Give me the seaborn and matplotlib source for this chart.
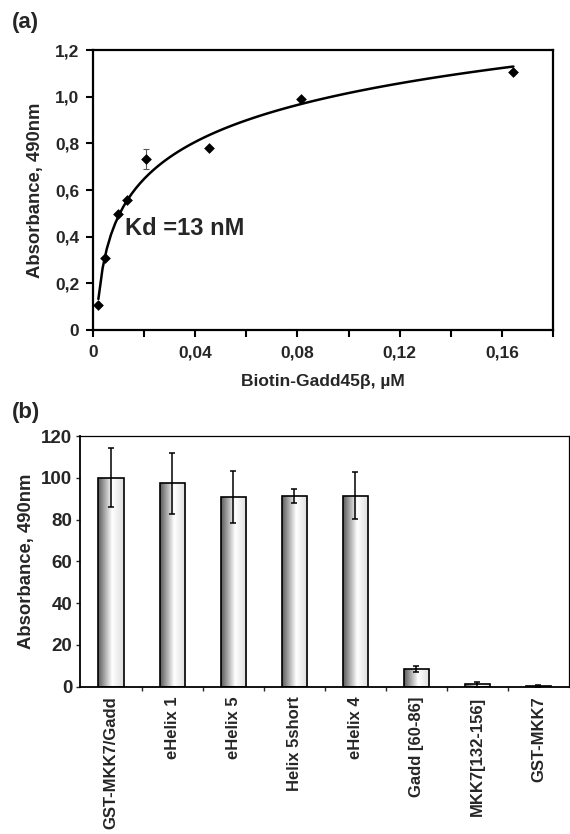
import numpy as np
import seaborn as sns
import matplotlib.pyplot as plt
from matplotlib.ticker import FixedLocator

# (a) binding of biotin-Gadd45b
conc_um = [0.0021, 0.0047, 0.0099, 0.0131, 0.0208, 0.0453, 0.0812, 0.1645]
absorb = [0.108, 0.307, 0.497, 0.557, 0.733, 0.779, 0.990, 1.106]
absorb_err = [0, 0, 0, 0, 0.042, 0, 0, 0]
a_xticks = [0, 0.04, 0.08, 0.12, 0.16]
a_xticklabels = ["0", "0,04", "0,08", "0,12", "0,16"]
a_yticks = [0, 0.2, 0.4, 0.6, 0.8, 1.0, 1.2]
a_yticklabels = ["0", "0,2", "0,4", "0,6", "0,8", "1,0", "1,2"]

# (b) peptide competition
constructs = ["GST-MKK7/Gadd", "eHelix 1", "eHelix 5", "Helix 5short",
              "eHelix 4", "Gadd [60-86]", "MKK7[132-156]", "GST-MKK7"]
signal = [100, 97.5, 91, 91.2, 91.5, 8.5, 1.2, 0.2]
signal_err = [14.2, 14.6, 12.4, 3.2, 11.3, 1.5, 1.2, 0.8]
b_yticks = [0, 20, 40, 60, 80, 100, 120]

sns.set_theme(style="white")
plt.rcParams["font.family"] = ["Liberation Sans", "DejaVu Sans"]
plt.rcParams["font.weight"] = "bold"

fig = plt.figure(figsize=(5.7, 8.34), dpi=100)

# ---------- panel (a) ----------
ax = fig.add_axes([0.1632, 0.6043, 0.807, 0.3357])
sns.regplot(x=conc_um, y=absorb, logx=True, scatter=False, ci=None, ax=ax,
            line_kws=dict(color="black", lw=1.8))
ax.errorbar(conc_um, absorb, yerr=absorb_err, fmt="none", ecolor="0.35",
            elinewidth=0.8, capsize=2, capthick=0.8, zorder=3)
sns.scatterplot(x=conc_um, y=absorb, marker="D", s=30, color="black",
                edgecolor="black", linewidth=0, ax=ax, zorder=4)
ax.set_xlim(0, 0.18)
ax.set_ylim(0, 1.2)
ax.set_xticks(a_xticks)
ax.set_xticklabels(a_xticklabels)
ax.xaxis.set_minor_locator(FixedLocator([0.02, 0.06, 0.10, 0.14, 0.18]))
ax.set_yticks(a_yticks)
ax.set_yticklabels(a_yticklabels)
ax.tick_params(axis="both", which="both", direction="out", length=5, width=1.5,
               color="black", labelsize=12.5, bottom=True, left=True)
ax.tick_params(axis="x", pad=6)
ax.tick_params(axis="y", pad=5)
for sp in ax.spines.values():
    sp.set_linewidth(1.6)
    sp.set_color("black")
ax.set_xlabel("Biotin-Gadd45\u03b2, \u00b5M", fontsize=12.5, fontweight="bold", labelpad=10)
ax.set_ylabel("Absorbance, 490nm", fontsize=13.3, fontweight="bold", labelpad=8)
ax.text(0.0127, 0.435, "Kd =13 nM", fontsize=17, fontweight="bold", va="center")
fig.text(12 / 570, 1 - 12 / 834, "(a)", fontsize=16, fontweight="bold", va="top")

# ---------- panel (b) ----------
bx = fig.add_axes([0.1412, 0.1766, 0.857, 0.3006])
sns.barplot(x=constructs, y=signal, color="white", width=0.41, edgecolor="black",
            linewidth=1.2, errorbar=None, ax=bx)

# shaded fill: dark at the left edge, white toward the right
grad = np.interp(np.linspace(0, 1, 256), [0, 0.55, 1], [0.35, 1.0, 0.86])
centers = []
for p in bx.patches:
    x0, w, h = p.get_x(), p.get_width(), p.get_height()
    centers.append(x0 + w / 2)
    im = bx.imshow(grad[np.newaxis, :], cmap="gray", vmin=0, vmax=1, aspect="auto",
                   extent=[x0, x0 + w, 0, max(h, 0.01)], zorder=2)
    im.set_clip_path(p)
    p.set_facecolor("none")
    p.set_zorder(3)

bx.errorbar(centers, signal, yerr=signal_err, fmt="none", ecolor="black",
            elinewidth=1.1, capsize=2.5, capthick=1.1, zorder=4)
bx.set_xlim(-0.5, len(constructs) - 0.5)
bx.set_ylim(0, 120)
bx.set_yticks(b_yticks)
bx.xaxis.set_minor_locator(FixedLocator([i + 0.5 for i in range(len(constructs) - 1)]))
bx.tick_params(axis="x", which="major", length=0, pad=7, labelsize=12, labelrotation=90)
bx.tick_params(axis="x", which="minor", direction="out", length=3, width=1, bottom=True)
bx.tick_params(axis="y", direction="out", length=3, width=1, pad=3, labelsize=13.5, left=True)
for lab in bx.get_xticklabels():
    lab.set_fontweight("bold")
bx.spines["left"].set_linewidth(1.3)
bx.spines["bottom"].set_linewidth(1.3)
bx.spines["top"].set_linewidth(0.9)
bx.spines["right"].set_linewidth(0.9)
for sp in bx.spines.values():
    sp.set_color("black")
bx.set_xlabel("")
bx.set_ylabel("Absorbance, 490nm", fontsize=13.3, fontweight="bold", labelpad=4)
fig.text(12 / 570, 1 - 402 / 834, "(b)", fontsize=16, fontweight="bold", va="top")

fig.savefig("out.png", dpi=100)
